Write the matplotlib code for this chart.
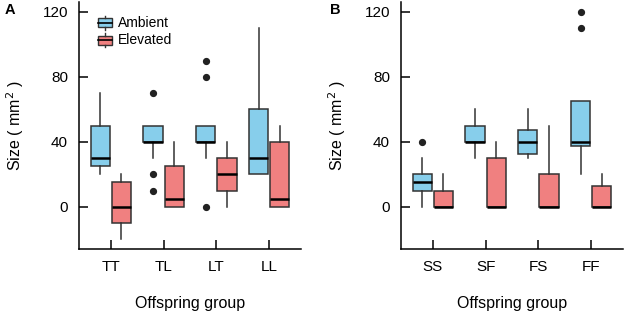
import matplotlib
matplotlib.use("Agg")
import matplotlib.pyplot as plt
from matplotlib.legend_handler import HandlerBase
from matplotlib.patches import Rectangle
from matplotlib.lines import Line2D

plt.rcParams['font.family'] = ['Liberation Sans', 'DejaVu Sans']

# panel A data (whislo, q1, med, q3, whishi)
groups_a = ["TT", "TL", "LT", "LL"]
amb_a = [[20, 25, 30, 50, 70], [30, 40, 40, 50, 50], [30, 40, 40, 50, 50], [20, 20, 30, 60, 110]]
amb_a_out = [[], [70, 20, 10], [90, 80, 0], []]
elev_a = [[-20, -10, 0, 15, 20], [0, 0, 5, 25, 40], [0, 10, 20, 30, 40], [0, 0, 5, 40, 50]]
elev_a_out = [[], [], [], []]

# panel B data
groups_b = ["SS", "SF", "FS", "FF"]
amb_b = [[0, 10, 15, 20, 30], [30, 40, 40, 50, 60], [30, 32.5, 40, 47.5, 60], [20, 37.5, 40, 65, 65]]
amb_b_out = [[40], [], [], [120, 110]]
elev_b = [[0, 0, 0, 10, 20], [0, 0, 0, 30, 40], [0, 0, 0, 20, 50], [0, 0, 0, 12.5, 20]]
elev_b_out = [[], [], [], []]

c_amb = "#87CEEB"
c_elev = "#F08080"
edge = "#333333"


def make_stats(vals, outs):
    st = []
    for v, o in zip(vals, outs):
        st.append(dict(whislo=v[0], q1=v[1], med=v[2], q3=v[3], whishi=v[4], fliers=o))
    return st


def draw_panel(ax, groups, amb, amb_out, elev, elev_out):
    pos = list(range(1, len(groups) + 1))
    for vals, outs, col, off in [(amb, amb_out, c_amb, -0.2), (elev, elev_out, c_elev, 0.2)]:
        ax.bxp(make_stats(vals, outs), positions=[p + off for p in pos], widths=0.36,
               patch_artist=True, showcaps=False,
               boxprops=dict(facecolor=col, edgecolor=edge, linewidth=1.1),
               medianprops=dict(color="black", linewidth=1.8),
               whiskerprops=dict(color=edge, linewidth=1.1),
               flierprops=dict(marker="o", markerfacecolor="#222222", markeredgecolor="#222222",
                               markersize=4.2))
    ax.set_xlim(0.4, 4.6)
    ax.set_ylim(-26, 126)
    ax.set_xticks(pos)
    ax.set_xticklabels(groups)
    ax.set_yticks([0, 40, 80, 120])
    ax.tick_params(direction="in", length=6.5, width=1.1, labelsize=11, pad=8)
    for s in ["top", "right"]:
        ax.spines[s].set_visible(False)
    for s in ["left", "bottom"]:
        ax.spines[s].set_linewidth(1.1)
    ax.set_xlabel("Offspring group", fontsize=11.5, labelpad=16)
    ax.set_ylabel("Size ( mm$^2$ )", fontsize=11.5, labelpad=12)


class BoxHandler(HandlerBase):
    def __init__(self, color):
        super().__init__()
        self.color = color

    def create_artists(self, legend, orig, xd, yd, width, height, fontsize, trans):
        w = width
        x0 = xd
        r = Rectangle((x0, yd), w, height, facecolor=self.color, edgecolor=edge, lw=1, transform=trans)
        xm = x0 + w / 2
        m = Line2D([x0, x0 + w], [yd + height / 2] * 2, color="black", lw=1.2, transform=trans)
        wt = Line2D([xm, xm], [yd + height, yd + height + 2], color=edge, lw=1, transform=trans)
        wb = Line2D([xm, xm], [yd, yd - 2], color=edge, lw=1, transform=trans)
        return [r, m, wt, wb]


fig = plt.figure(figsize=(6.24, 3.13), dpi=100)
ax1 = fig.add_axes([79 / 624, 1 - 249 / 313, 222 / 624, 247 / 313])
ax2 = fig.add_axes([401 / 624, 1 - 249 / 313, 222 / 624, 247 / 313])

draw_panel(ax1, groups_a, amb_a, amb_a_out, elev_a, elev_a_out)
draw_panel(ax2, groups_b, amb_b, amb_b_out, elev_b, elev_b_out)

fig.text(5 / 624, 1 - 10 / 313, "A", fontsize=10.5, fontweight="bold", va="center")
fig.text(330 / 624, 1 - 10 / 313, "B", fontsize=10.5, fontweight="bold", va="center")

h1 = Rectangle((0, 0), 1, 1)
h2 = Rectangle((0, 0), 1, 1)
ax1.legend([h1, h2], ["Ambient", "Elevated"], loc="upper left", bbox_to_anchor=(0.03, 0.995),
           frameon=False, fontsize=10, handlelength=1.0, handleheight=0.6, handletextpad=0.45,
           labelspacing=0.25,
           handler_map={h1: BoxHandler(c_amb), h2: BoxHandler(c_elev)})

fig.savefig("out.png", dpi=100)
